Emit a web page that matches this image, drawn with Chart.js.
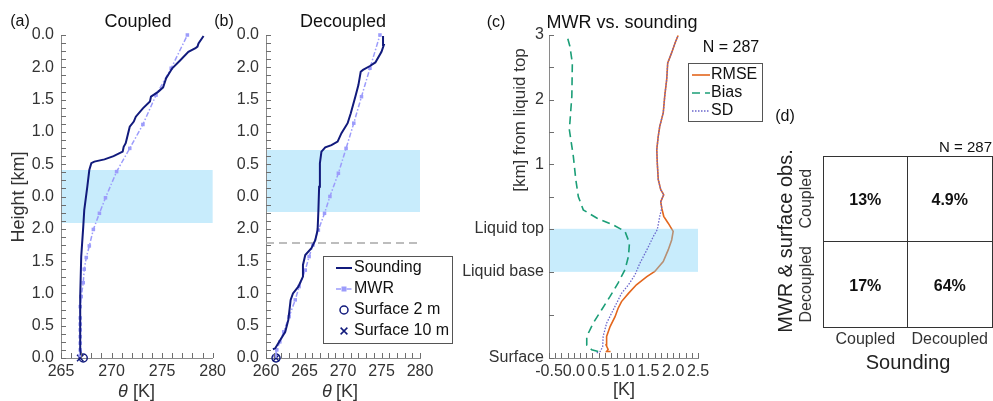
<!DOCTYPE html>
<html>
<head>
<meta charset="utf-8">
<script src="https://cdn.jsdelivr.net/npm/chart.js@4.4.1/dist/chart.umd.min.js"></script>
<style>
  html, body { margin: 0; padding: 0; background: #fff; }
  #fig { position: relative; width: 993px; height: 401px; overflow: hidden; }
  #fig canvas { position: absolute; top: 0; }
</style>
</head>
<body>
<div id="fig">
  <canvas id="pa" width="230" height="401" style="left:0px"></canvas>
  <canvas id="pb" width="250" height="401" style="left:205px"></canvas>
  <canvas id="pc" width="320" height="401" style="left:450px"></canvas>
  <canvas id="pd" width="223" height="401" style="left:770px"></canvas>
</div>
<script>
// ---------- data ----------
// height axis of (a)/(b): 11 evenly spaced levels, labels as printed bottom -> top
const levelLabels = ['0.0', '0.5', '1.0', '1.5', '2.0', '0.0', '0.5', '1.0', '1.5', '2.0', '0.0'];

// (a) coupled case
const aThetaRange = [265, 280];
const aSoundLevel = [0.09, 0.25, 0.87, 1.90, 3.14, 4.06, 4.58, 5.30, 5.82, 6.03, 6.08, 6.15, 6.25, 6.39, 6.54, 6.65, 7.16, 7.32, 7.47, 7.73, 7.94, 8.09, 8.24, 8.38, 8.66, 8.97, 9.22, 9.48, 9.59, 9.64, 9.74, 9.97];
const aSoundTheta = [267.0, 266.9, 266.9, 266.9, 267.0, 267.2, 267.3, 267.6, 267.8, 268.0, 268.3, 269.3, 270.2, 271.1, 271.2, 271.4, 271.8, 272.2, 272.4, 273.1, 273.8, 273.9, 274.6, 275.1, 275.4, 276.0, 276.8, 277.6, 278.3, 278.5, 278.6, 279.1];
const aMwrLevel = [0.08, 0.25, 0.46, 0.66, 0.87, 1.05, 1.24, 1.59, 1.90, 2.33, 2.75, 3.11, 3.47, 3.98, 4.48, 4.96, 5.77, 6.49, 7.23, 8.14, 8.97, 10.0];
const aMwrTheta = [266.9, 266.9, 266.9, 266.9, 266.9, 266.9, 266.9, 266.9, 267.0, 267.2, 267.3, 267.5, 267.8, 268.2, 268.8, 269.4, 270.5, 271.8, 273.1, 274.4, 275.9, 277.5];
const aSurf2m = 267.2;
const aSurf10m = 266.9;
const aCloud = [4.18, 5.82];

// (b) decoupled case
const bThetaRange = [260, 280];
const bSoundLevel = [0.27, 0.30, 0.81, 1.18, 1.80, 2.00, 2.21, 2.52, 2.88, 3.19, 3.40, 3.65, 3.96, 4.53, 5.30, 6.03, 6.39, 6.52, 6.59, 6.70, 6.96, 7.27, 7.57, 8.09, 8.45, 8.86, 8.92, 9.04, 9.15, 9.48, 9.69, 9.97];
const bSoundTheta = [260.9, 261.2, 262.5, 262.9, 263.2, 263.5, 264.2, 264.8, 264.8, 265.1, 265.9, 266.4, 266.7, 266.8, 266.9, 267.0, 267.2, 267.7, 268.5, 269.3, 269.8, 270.6, 271.0, 271.6, 272.0, 272.3, 272.6, 273.5, 274.2, 275.0, 275.3, 275.2];
const bMwrLevel = [0.06, 0.25, 0.50, 0.81, 1.28, 1.80, 2.21, 2.72, 3.14, 3.50, 3.96, 4.48, 5.00, 5.72, 6.49, 7.27, 8.09, 8.97, 10.0];
const bMwrTheta = [261.2, 261.4, 261.8, 262.3, 263.0, 263.8, 264.3, 265.1, 265.6, 266.1, 266.8, 267.6, 268.3, 269.4, 270.4, 271.4, 272.4, 273.5, 274.8];
const bSurf2m = 261.3;
const bSurf10m = 261.3;
const bCloud = [4.52, 6.44];
const bDecoupleLevel = 3.56;

// (c) MWR vs. sounding statistics
const nCases = 287;
const cKRange = [-0.5, 2.5];
const cTickPos = [0, 1, 2, 3, 3.75, 4.5, 5.25, 6, 6.75, 7.5];
const cTickText = ['Surface', '', 'Liquid base', 'Liquid top', '', '1', '', '2', '', '3'];
const cLiquid = [2, 3];
const cRmseLevel = [0.15, 0.15, 0.20, 0.30, 0.50, 0.73, 0.96, 1.15, 1.31, 1.50, 1.70, 1.89, 2.01, 2.24, 2.51, 2.74, 2.94, 3.13, 3.29, 3.48, 3.63, 3.79, 3.91, 4.14, 4.53, 4.84, 5.15, 5.38, 5.69, 6.08, 6.47, 6.85, 7.09, 7.32, 7.49];
const cRmse = [0.74, 0.66, 0.69, 0.65, 0.66, 0.73, 0.83, 0.89, 0.96, 1.10, 1.26, 1.47, 1.63, 1.80, 1.90, 1.97, 2.00, 1.90, 1.81, 1.77, 1.75, 1.81, 1.75, 1.70, 1.68, 1.67, 1.70, 1.73, 1.80, 1.83, 1.87, 1.89, 1.97, 2.04, 2.10];
const cBiasLevel = [0.15, 0.19, 0.30, 0.50, 0.81, 1.12, 1.43, 1.74, 2.05, 2.36, 2.67, 2.94, 3.09, 3.25, 3.44, 3.75, 4.14, 4.68, 5.30, 6.08, 6.85, 7.24, 7.49];
const cBias = [0.49, 0.36, 0.26, 0.26, 0.39, 0.56, 0.73, 0.89, 1.03, 1.10, 1.12, 1.03, 0.79, 0.46, 0.19, 0.09, 0.04, -0.01, -0.09, -0.04, -0.03, -0.08, -0.14];
const cSdLevel = [0.12, 0.15, 0.26, 0.50, 0.81, 1.04, 1.27, 1.50, 1.70, 1.93, 2.20, 2.51, 2.82, 2.98, 3.29, 3.48, 3.63, 3.79, 3.91, 4.14, 4.53, 4.84, 5.15, 5.38, 5.69, 6.08, 6.47, 6.85, 7.09, 7.32, 7.49];
const cSd = [0.46, 0.53, 0.58, 0.59, 0.66, 0.76, 0.86, 0.96, 1.10, 1.23, 1.33, 1.47, 1.60, 1.68, 1.73, 1.77, 1.75, 1.81, 1.75, 1.70, 1.68, 1.67, 1.70, 1.73, 1.80, 1.83, 1.87, 1.89, 1.97, 2.04, 2.10];

// (d) contingency table, rows = MWR & surface obs., cols = sounding
const dCats = ['Coupled', 'Decoupled'];
const dShare = [[13, 4.9], [17, 64]];

// ---------- styles / helpers ----------
const FONT = '"Liberation Sans", Arial, Helvetica, sans-serif';
const NAVY = '#111a7c';
const MWR_C = '#9c9cfb';
const AXIS_C = '#8a8a8a';
const BAND = 'rgb(200,236,252)';
Chart.defaults.font.family = FONT;
Chart.defaults.color = '#333';

const pts = (xs, ys) => xs.map((x, i) => ({ x: x, y: ys[i] }));
const steps = (a, b, s) => { const out = []; for (let v = a; v <= b + 1e-9; v += s) out.push({ value: Math.round(v * 1000) / 1000 }); return out; };
const isMult = (v, m) => Math.abs(v / m - Math.round(v / m)) < 1e-6;

function textLayer(left, items) {
  return {
    id: 'textLayer',
    afterDraw(chart) {
      const ctx = chart.ctx;
      items.forEach(it => {
        ctx.save();
        ctx.font = (it.style || '') + ' ' + it.size + 'px ' + FONT;
        ctx.fillStyle = it.color || '#111';
        ctx.textAlign = it.align || 'center';
        ctx.textBaseline = 'middle';
        ctx.translate(it.x - left, it.y);
        if (it.rot) ctx.rotate(it.rot * Math.PI / 180);
        ctx.fillText(it.t, 0, 0);
        ctx.restore();
      });
    }
  };
}

// matlab-like inward ticks
function tickLayer(len) {
  return {
    id: 'tickLayer',
    afterDraw(chart) {
      const { ctx, chartArea: a, scales } = chart;
      ctx.save();
      ctx.strokeStyle = '#6e6e6e';
      ctx.lineWidth = 1;
      ctx.beginPath();
      scales.x.ticks.forEach(t => {
        const px = Math.round(scales.x.getPixelForValue(t.value)) + 0.5;
        ctx.moveTo(px, a.bottom); ctx.lineTo(px, a.bottom - len);
      });
      scales.y.ticks.forEach(t => {
        const py = Math.round(scales.y.getPixelForValue(t.value)) + 0.5;
        ctx.moveTo(a.left, py); ctx.lineTo(a.left + len, py);
      });
      ctx.stroke();
      ctx.restore();
    }
  };
}

function fillBand(chart, range, color) {
  const { ctx, chartArea: a, scales: { y } } = chart;
  const top = y.getPixelForValue(range[1]);
  const bot = y.getPixelForValue(range[0]);
  ctx.save();
  ctx.fillStyle = color;
  ctx.fillRect(a.left + 1, top, a.right - a.left - 1, bot - top);
  ctx.restore();
}

function drawMark(ctx, d, x, y) {
  const r = d.pointRadius;
  ctx.save();
  ctx.lineWidth = d.pointBorderWidth || 1.5;
  ctx.strokeStyle = d.borderColor;
  ctx.fillStyle = d.backgroundColor || d.borderColor;
  ctx.beginPath();
  if (d.pointStyle === 'rect') {
    ctx.fillRect(x - r, y - r, 2 * r, 2 * r);
  } else if (d.pointStyle === 'circle') {
    ctx.arc(x, y, r, 0, 2 * Math.PI); ctx.stroke();
  } else if (d.pointStyle === 'crossRot') {
    const q = r * 0.75;
    ctx.moveTo(x - q, y - q); ctx.lineTo(x + q, y + q);
    ctx.moveTo(x + q, y - q); ctx.lineTo(x - q, y + q);
    ctx.stroke();
  }
  ctx.restore();
}

function legendLayer(left, box, rowY, sampleX, textX, size) {
  return {
    id: 'legendLayer',
    afterDraw(chart) {
      const ctx = chart.ctx;
      const x0 = box[0] - left, y0 = box[1], w = box[2] - box[0], h = box[3] - box[1];
      ctx.save();
      ctx.fillStyle = '#fff';
      ctx.fillRect(x0, y0, w, h);
      ctx.strokeStyle = '#555';
      ctx.lineWidth = 1;
      ctx.strokeRect(x0 + 0.5, y0 + 0.5, w, h);
      chart.data.datasets.filter(d => d.label).forEach((d, i) => {
        const y = rowY[i], xs = sampleX[0] - left, xe = sampleX[1] - left;
        if (d.showLine) {
          ctx.strokeStyle = d.borderColor;
          ctx.lineWidth = d.borderWidth;
          ctx.setLineDash(d.borderDash || []);
          ctx.beginPath(); ctx.moveTo(xs, y); ctx.lineTo(xe, y); ctx.stroke();
          ctx.setLineDash([]);
        }
        if (d.pointRadius > 0) drawMark(ctx, d, (xs + xe) / 2, y);
        ctx.fillStyle = '#111';
        ctx.font = size + 'px ' + FONT;
        ctx.textAlign = 'left';
        ctx.textBaseline = 'middle';
        ctx.fillText(d.label, textX - left, y);
      });
      ctx.restore();
    }
  };
}

function thetaDatasets(soundT, soundL, mwrT, mwrL, s2, s10) {
  return [
    { label: 'Sounding', data: pts(soundT, soundL), showLine: true, borderColor: NAVY, borderWidth: 2, pointRadius: 0, clip: false },
    { label: 'MWR', data: pts(mwrT, mwrL), showLine: true, borderColor: MWR_C, backgroundColor: MWR_C, borderWidth: 1.5, borderDash: [5, 2, 1.5, 2],
      pointStyle: 'rect', pointRadius: 2.5, pointBorderWidth: 0, clip: false },
    { label: 'Surface 2 m', data: [{ x: s2, y: 0 }], pointStyle: 'circle', pointRadius: 4, borderColor: NAVY, backgroundColor: 'rgba(0,0,0,0)', pointBorderWidth: 1.5, clip: false },
    { label: 'Surface 10 m', data: [{ x: s10, y: 0 }], pointStyle: 'crossRot', pointRadius: 4.5, borderColor: NAVY, pointBorderWidth: 1.5, clip: false }
  ];
}

function thetaScales(range, yWidth) {
  return {
    x: {
      type: 'linear', min: range[0], max: range[1],
      grid: { display: false, drawTicks: false },
      border: { display: true, color: AXIS_C },
      afterBuildTicks: s => { s.ticks = steps(range[0], range[1], 1); },
      ticks: { autoSkip: false, maxRotation: 0, padding: 4, color: '#333', font: { size: 16 },
        callback: v => (isMult(v, 5) ? String(v) : '') },
      afterFit: s => { s.height = 43; }
    },
    y: {
      type: 'linear', min: 0, max: 10,
      grid: { display: false, drawTicks: false },
      border: { display: true, color: AXIS_C },
      afterBuildTicks: s => { s.ticks = steps(0, 10, 0.25); },
      ticks: { autoSkip: false, padding: 7, color: '#333', font: { size: 16 },
        callback: v => (isMult(v, 1) ? levelLabels[Math.round(v)] : '') },
      afterFit: s => { s.width = yWidth; }
    }
  };
}

const baseOpts = {
  responsive: false,
  animation: false,
  events: [],
  plugins: { legend: { display: false }, tooltip: { enabled: false } }
};

// ---------- (a) ----------
new Chart(document.getElementById('pa'), {
  type: 'scatter',
  data: { datasets: thetaDatasets(aSoundTheta, aSoundLevel, aMwrTheta, aMwrLevel, aSurf2m, aSurf10m) },
  options: Object.assign({}, baseOpts, {
    layout: { padding: { top: 35, right: 14, left: 0, bottom: 0 } },
    scales: thetaScales(aThetaRange, 61)
  }),
  plugins: [
    { id: 'bandA', beforeDatasetsDraw(chart) { fillBand(chart, aCloud, BAND); } },
    tickLayer(5),
    textLayer(0, [
      { t: '(a)', x: 20, y: 22, size: 16 },
      { t: 'Coupled', x: 138, y: 22, size: 18 },
      { t: 'Height [km]', x: 19, y: 197, size: 18, rot: -90, color: '#333' },
      { t: 'θ', x: 123, y: 392, size: 18, style: 'italic', color: '#333' },
      { t: '[K]', x: 144, y: 392, size: 18, color: '#333' }
    ])
  ]
});

// ---------- (b) ----------
const B_LEFT = 205;
const bSets = thetaDatasets(bSoundTheta, bSoundLevel, bMwrTheta, bMwrLevel, bSurf2m, bSurf10m);
bSets.push({ data: [{ x: bThetaRange[0], y: bDecoupleLevel }, { x: bThetaRange[1], y: bDecoupleLevel }],
  showLine: true, borderColor: '#a8a8a8', borderWidth: 1.5, borderDash: [8, 5], pointRadius: 0 });
new Chart(document.getElementById('pb'), {
  type: 'scatter',
  data: { datasets: bSets },
  options: Object.assign({}, baseOpts, {
    layout: { padding: { top: 35, right: 35, left: 0, bottom: 0 } },
    scales: thetaScales(bThetaRange, 61)
  }),
  plugins: [
    { id: 'bandB', beforeDatasetsDraw(chart) { fillBand(chart, bCloud, BAND); } },
    tickLayer(5),
    legendLayer(B_LEFT, [323, 256, 452, 343], [268, 289, 310, 331], [336, 352], 354, 16),
    textLayer(B_LEFT, [
      { t: '(b)', x: 224, y: 22, size: 16 },
      { t: 'Decoupled', x: 343, y: 22, size: 18 },
      { t: 'θ', x: 327, y: 392, size: 18, style: 'italic', color: '#333' },
      { t: '[K]', x: 347, y: 392, size: 18, color: '#333' }
    ])
  ]
});

// ---------- (c) ----------
const C_LEFT = 450;
new Chart(document.getElementById('pc'), {
  type: 'scatter',
  data: {
    datasets: [
      { label: 'RMSE', data: pts(cRmse, cRmseLevel), showLine: true, borderColor: '#e3661d', borderWidth: 1.6, pointRadius: 0, order: 3, clip: false },
      { label: 'Bias', data: pts(cBias, cBiasLevel), showLine: true, borderColor: '#1b9e77', borderWidth: 1.6, borderDash: [8, 5], pointRadius: 0, order: 1, clip: false },
      { label: 'SD', data: pts(cSd, cSdLevel), showLine: true, borderColor: '#6a66cc', borderWidth: 1.3, borderDash: [1.5, 1.5], pointRadius: 0, order: 2, clip: false }
    ]
  },
  options: Object.assign({}, baseOpts, {
    layout: { padding: { top: 35, right: 72, left: 0, bottom: 0 } },
    scales: {
      x: {
        type: 'linear', min: cKRange[0], max: cKRange[1],
        grid: { display: false, drawTicks: false },
        border: { display: true, color: AXIS_C },
        afterBuildTicks: s => { s.ticks = steps(cKRange[0], cKRange[1], 0.125); },
        ticks: { autoSkip: false, maxRotation: 0, padding: 4, color: '#333', font: { size: 16 },
          callback: v => (isMult(v, 0.5) ? v.toFixed(1) : '') },
        afterFit: s => { s.height = 43; }
      },
      y: {
        type: 'linear', min: 0, max: cTickPos[cTickPos.length - 1],
        grid: { display: false, drawTicks: false },
        border: { display: true, color: AXIS_C },
        afterBuildTicks: s => { s.ticks = cTickPos.map(v => ({ value: v })); },
        ticks: { autoSkip: false, padding: 5, color: '#333', font: { size: 16 },
          callback: v => cTickText[cTickPos.indexOf(v)] },
        afterFit: s => { s.width = 99; }
      }
    }
  }),
  plugins: [
    // liquid layer is laid over the RMSE line only (drawn first)
    { id: 'bandC', afterDatasetDraw(chart, args) { if (args.index === 0) fillBand(chart, cLiquid, 'rgba(118,208,248,0.4)'); } },
    tickLayer(5),
    legendLayer(C_LEFT, [688, 63, 762, 121], [75, 93, 111], [692, 710], 711, 16),
    textLayer(C_LEFT, [
      { t: '(c)', x: 496, y: 23, size: 16 },
      { t: 'MWR vs. sounding', x: 622, y: 23, size: 18 },
      { t: 'N = ' + nCases, x: 731, y: 48, size: 16 },
      { t: '[km] from liquid top', x: 520, y: 120, size: 17, rot: -90, color: '#333' },
      { t: '[K]', x: 624, y: 390, size: 18, color: '#333' }
    ])
  ]
});

// ---------- (d) ----------
const D_LEFT = 770;
const dCells = dShare.flatMap((row, r) => row.map((v, c) => ({ x: c + 0.5, y: r + 0.5, v: v })));
new Chart(document.getElementById('pd'), {
  type: 'scatter',
  data: { datasets: [{ data: dCells, pointRadius: 0 }] },
  options: Object.assign({}, baseOpts, {
    layout: { padding: { top: 156, right: 1, left: 0, bottom: 0 } },
    scales: {
      x: {
        type: 'linear', min: 0, max: 2,
        grid: { color: '#333', drawTicks: false },
        border: { display: true, color: '#333' },
        afterBuildTicks: s => { s.ticks = [0, 1, 2].map(v => ({ value: v })); },
        ticks: { display: false },
        afterFit: s => { s.height = 74; }
      },
      y: {
        type: 'linear', min: 0, max: 2, reverse: true,
        grid: { color: '#333', drawTicks: false },
        border: { display: true, color: '#333' },
        afterBuildTicks: s => { s.ticks = [0, 1, 2].map(v => ({ value: v })); },
        ticks: { display: false },
        afterFit: s => { s.width = 53; }
      }
    }
  }),
  plugins: [
    {
      id: 'cellText',
      afterDatasetsDraw(chart) {
        const ctx = chart.ctx;
        const meta = chart.getDatasetMeta(0);
        ctx.save();
        ctx.font = 'bold 16px ' + FONT;
        ctx.fillStyle = '#111';
        ctx.textAlign = 'center';
        ctx.textBaseline = 'middle';
        meta.data.forEach((p, i) => ctx.fillText(dCells[i].v + '%', p.x, p.y + 2));
        ctx.restore();
      }
    },
    {
      id: 'catLabels',
      afterDraw(chart) {
        const { ctx, scales: { x, y } } = chart;
        ctx.save();
        ctx.font = '16px ' + FONT;
        ctx.fillStyle = '#333';
        ctx.textAlign = 'center';
        ctx.textBaseline = 'middle';
        dCats.forEach((c, i) => {
          ctx.fillText(c, x.getPixelForValue(i + 0.5), 340);
          ctx.save();
          ctx.translate(807 - D_LEFT, y.getPixelForValue(i + 0.5));
          ctx.rotate(-Math.PI / 2);
          ctx.fillText(c, 0, 0);
          ctx.restore();
        });
        ctx.restore();
      }
    },
    textLayer(D_LEFT, [
      { t: '(d)', x: 785, y: 117, size: 16 },
      { t: 'N = ' + nCases, x: 992, y: 148, size: 15, align: 'right' },
      { t: 'MWR & surface obs.', x: 786, y: 241, size: 20, rot: -90, color: '#222' },
      { t: 'Sounding', x: 908, y: 363, size: 20, color: '#222' }
    ])
  ]
});
</script>
</body>
</html>
